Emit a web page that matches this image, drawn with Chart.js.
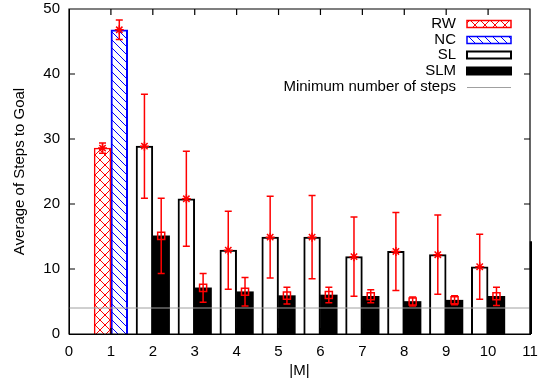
<!DOCTYPE html>
<html><head><meta charset="utf-8">
<script src="https://cdn.jsdelivr.net/npm/chart.js@4/dist/chart.umd.min.js"></script>
<style>html,body{margin:0;padding:0;background:#fff}#wrap{width:538px;height:382px;position:relative}</style>
</head><body><div id="wrap"><canvas id="c" width="538" height="382"></canvas></div>
<script>
// ---- data ----
const xTicks = [0,1,2,3,4,5,6,7,8,9,10,11];
const yTicks = [0,10,20,30,40,50];
const baseM = 1;
const rwSteps = 28.6, rwErr = 0.8;
const ncSteps = 46.8, ncErr = 1.5;
const slM = [2,3,4,5,6,7,8,9,10];
const slSteps = [28.9,20.8,12.9,14.9,14.9,11.9,12.7,12.2,10.35];
const slErr   = [8.0,7.3,6.0,6.3,6.4,6.1,6.0,6.1,5.0];
const slmM = [2,3,4,5,6,7,8,9,10,11];
const slmSteps = [15.1,7.1,6.5,5.9,6.0,5.8,5.0,5.2,5.8,14.2];
const slmErr   = [5.8,2.2,2.2,1.3,1.2,1.0,0.7,0.7,1.4,null];
const minSteps = 4;
const legendLabels = ['RW','NC','SL','SLM','Minimum number of steps'];

// ---- styles ----
const FONT = "'Liberation Sans', Arial, sans-serif";
const OFF = 0.2; // bar offset from integer M
Chart.defaults.font.family = FONT;
Chart.defaults.font.size = 15;
Chart.defaults.color = '#000';

function makePattern(color, cross){
  const s = cross ? 10 : 8;
  const c = document.createElement('canvas'); c.width = s; c.height = s;
  const g = c.getContext('2d');
  g.fillStyle = '#fff'; g.fillRect(0,0,s,s);
  g.strokeStyle = color; g.lineWidth = 1;
  g.beginPath();
  for (const k of [-s,0,s]) {
    g.moveTo(k,0); g.lineTo(k+s,s);
    if (cross) { g.moveTo(k+s,0); g.lineTo(k,s); }
  }
  g.stroke();
  return g.createPattern(c,'repeat');
}
const ctx0 = document.getElementById('c').getContext('2d');
const rwFill = makePattern('#ff0000', true);
const ncFill = makePattern('#0000ff', false);

const starPts = [{x: baseM-OFF, y: rwSteps},{x: baseM+OFF, y: ncSteps}]
  .concat(slM.map((m,i)=>({x:m-OFF, y:slSteps[i]})));
const starErr = [rwErr, ncErr].concat(slErr);
const sqPts = [], sqErr = [];
slmM.forEach((m,i)=>{ if (slmErr[i]!=null){ sqPts.push({x:m+OFF,y:slmSteps[i]}); sqErr.push(slmErr[i]); }});

const errPlugin = {
  id:'errbars',
  beforeDatasetDraw(chart, args){
    const ds = chart.data.datasets[args.index];
    if (!ds.errors) return;
    const xs = chart.scales.x, ys = chart.scales.y, ctx = chart.ctx;
    ctx.save(); ctx.strokeStyle = '#ff0000'; ctx.lineWidth = 1.5;
    ds.data.forEach((p,i)=>{
      const e = ds.errors[i];
      const px = xs.getPixelForValue(p.x);
      const y1 = ys.getPixelForValue(p.y+e), y2 = ys.getPixelForValue(p.y-e);
      ctx.beginPath();
      ctx.moveTo(px,y1); ctx.lineTo(px,y2);
      ctx.moveTo(px-3.5,y1); ctx.lineTo(px+3.5,y1);
      ctx.moveTo(px-3.5,y2); ctx.lineTo(px+3.5,y2);
      ctx.stroke();
    });
    ctx.restore();
  }
};

const framePlugin = {
  id:'frameLegend',
  afterDraw(chart){
    const ctx = chart.ctx, xs = chart.scales.x, ys = chart.scales.y;
    const L = xs.getPixelForValue(xTicks[0]), R = xs.getPixelForValue(xTicks[xTicks.length-1]);
    const T = ys.getPixelForValue(yTicks[yTicks.length-1]), B = ys.getPixelForValue(yTicks[0]);
    ctx.save();
    ctx.strokeStyle = '#000'; ctx.lineWidth = 1.2;
    ctx.beginPath();
    ctx.rect(L, T, R-L, B-T);
    for (const v of xTicks) { const px = xs.getPixelForValue(v);
      ctx.moveTo(px, T); ctx.lineTo(px, T+6); ctx.moveTo(px, B); ctx.lineTo(px, B-6); }
    for (const v of yTicks) { const py = ys.getPixelForValue(v);
      ctx.moveTo(L, py); ctx.lineTo(L+6, py); ctx.moveTo(R, py); ctx.lineTo(R-6, py); }
    ctx.stroke();
    ctx.font = '15px ' + FONT; ctx.textAlign='right'; ctx.textBaseline='middle'; ctx.fillStyle='#000';
    const tx = 456, bx = 467, bw = 44, bh = 7, rows = [24, 40, 55, 71, 87];
    legendLabels.forEach((l,i)=> ctx.fillText(l, tx, rows[i]));
    ctx.fillStyle = rwFill; ctx.fillRect(bx, rows[0]-bh/2, bw, bh);
    ctx.strokeStyle='#ff0000'; ctx.lineWidth=1.5; ctx.strokeRect(bx, rows[0]-bh/2, bw, bh);
    ctx.fillStyle = ncFill; ctx.fillRect(bx, rows[1]-bh/2, bw, bh);
    ctx.strokeStyle='#0000ff'; ctx.strokeRect(bx, rows[1]-bh/2, bw, bh);
    ctx.fillStyle = '#fff'; ctx.fillRect(bx, rows[2]-bh/2, bw, bh);
    ctx.strokeStyle='#000'; ctx.lineWidth=2; ctx.strokeRect(bx, rows[2]-bh/2, bw, bh);
    ctx.fillStyle = '#000'; ctx.fillRect(bx-1, rows[3]-bh/2-1, bw+2, bh+2);
    ctx.fillStyle='#a0a0a0'; ctx.fillRect(bx, rows[4], bw, 1);
    ctx.restore();
  }
};

new Chart(ctx0, {
  data: {
    datasets: [
      { type:'line', label:'starMarks', data: starPts, errors: starErr, showLine:false,
        pointStyle:'star', pointRadius:4.5, borderColor:'#ff0000', backgroundColor:'#ff0000', pointBorderWidth:1.5 },
      { type:'line', label:'sqMarks', data: sqPts, errors: sqErr, showLine:false,
        pointStyle:'rect', pointRadius:5, borderColor:'#ff0000', backgroundColor:'rgba(0,0,0,0)', pointBorderWidth:1.5 },
      { type:'line', label:'min', data: [{x:xTicks[0],y:minSteps},{x:xTicks[xTicks.length-1],y:minSteps}],
        borderColor:'#a0a0a0', borderWidth:1, pointRadius:0 },
      { type:'bar', label:'RW', data:[{x:baseM-OFF, y:rwSteps}], backgroundColor: rwFill, borderColor:'#ff0000', borderWidth:1.5, grouped:false },
      { type:'bar', label:'NC', data:[{x:baseM+OFF, y:ncSteps}], backgroundColor: ncFill, borderColor:'#0000ff', borderWidth:2, grouped:false },
      { type:'bar', label:'SL', data: slM.map((m,i)=>({x:m-OFF,y:slSteps[i]})), backgroundColor:'#fff', borderColor:'#000', borderWidth:2, grouped:false },
      { type:'bar', label:'SLM', data: slmM.map((m,i)=>({x:m+OFF,y:slmSteps[i]})), backgroundColor:'#000', borderColor:'#000', borderWidth:0, grouped:false,
        clip:{left:0, top:0, right:2, bottom:0} }
    ]
  },
  options: {
    responsive:false, animation:false, events:[],
    layout:{ padding:{ top:9, right:8, left:0, bottom:0 } },
    plugins:{ legend:{display:false}, tooltip:{enabled:false} },
    datasets:{ bar:{ barPercentage:1, categoryPercentage:1 } },
    scales:{
      x:{ type:'linear', offset:false, min:xTicks[0], max:xTicks[xTicks.length-1],
        afterBuildTicks(s){ s.ticks = xTicks.map(v=>({value:v})); },
        afterFit(s){ s.height = 48; s.paddingLeft = 0; s.paddingRight = 0; },
        grid:{ display:false, drawTicks:false, offset:false }, border:{display:true, color:'#000', width:1},
        ticks:{ padding:9, autoSkip:false, maxRotation:0 },
        title:{ display:true, text:'|M|', padding:{top:0,bottom:2} } },
      y:{ type:'linear', min:yTicks[0], max:yTicks[yTicks.length-1],
        afterBuildTicks(s){ s.ticks = yTicks.map(v=>({value:v})); },
        afterFit(s){ s.width = 69; s.paddingTop = 0; s.paddingBottom = 0; },
        grid:{ display:false, drawTicks:false }, border:{display:true, color:'#000', width:1},
        ticks:{ padding:9 },
        title:{ display:true, text:'Average of Steps to Goal', padding:{top:11,bottom:0} } }
    }
  },
  plugins:[errPlugin, framePlugin]
});
</script></body></html>
